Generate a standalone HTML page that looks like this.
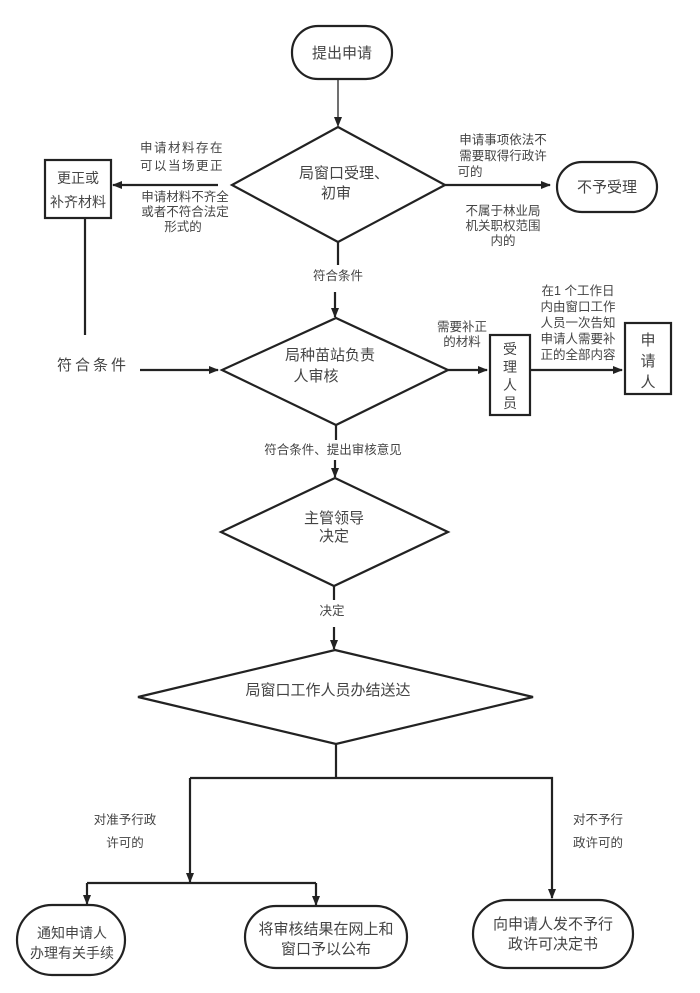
<!DOCTYPE html>
<html><head><meta charset="utf-8"><style>
html,body{margin:0;padding:0;background:#fff;}
svg text{font-family:"Liberation Sans","Noto Sans CJK SC",sans-serif;fill:#444;}
</style></head><body>
<svg width="700" height="988" viewBox="0 0 700 988" xmlns="http://www.w3.org/2000/svg">
<defs><marker id="a" markerWidth="10" markerHeight="10" refX="9" refY="5" orient="auto" markerUnits="userSpaceOnUse"><path d="M0,1 L10,5 L0,9 z" fill="#222"/></marker></defs>
<g stroke="#222" stroke-width="2.2" fill="none">
<rect x="292" y="26" width="100" height="53" rx="26"/>
<line x1="338" y1="79" x2="338" y2="126" stroke-width="1.3" marker-end="url(#a)"/>
<polygon points="338,127 445,185 338,242 232,185"/>
<line x1="218" y1="185" x2="113" y2="185" marker-end="url(#a)"/>
<line x1="445" y1="185" x2="550" y2="185" marker-end="url(#a)"/>
<rect x="45" y="160" width="66" height="58"/>
<rect x="557" y="162" width="100" height="50" rx="25"/>
<line x1="85" y1="218" x2="85" y2="335"/>
<line x1="338" y1="242" x2="338" y2="265"/>
<line x1="335" y1="292" x2="335" y2="317" marker-end="url(#a)"/>
<polygon points="336,318 448,370 336,425 222,370"/>
<line x1="140" y1="370" x2="218" y2="370" marker-end="url(#a)"/>
<line x1="448" y1="370" x2="487" y2="370" marker-end="url(#a)"/>
<rect x="490" y="335" width="40" height="80"/>
<line x1="530" y1="370" x2="622" y2="370" marker-end="url(#a)"/>
<rect x="625" y="323" width="46" height="71"/>
<line x1="336" y1="425" x2="336" y2="440"/>
<line x1="335" y1="460" x2="335" y2="477" marker-end="url(#a)"/>
<polygon points="335,478 448,532 334,586 221,532"/>
<line x1="334" y1="586" x2="334" y2="600"/>
<line x1="334" y1="627" x2="334" y2="649" marker-end="url(#a)"/>
<polygon points="335,650 533,697 336,744 138,697"/>
<line x1="336" y1="744" x2="336" y2="778"/>
<polyline points="190,778 552,778 552,898" marker-end="url(#a)"/>
<line x1="190" y1="778" x2="190" y2="882" marker-end="url(#a)"/>
<polyline points="87,883 316,883"/>
<line x1="87" y1="883" x2="87" y2="904" marker-end="url(#a)"/>
<line x1="316" y1="883" x2="316" y2="905" marker-end="url(#a)"/>
<rect x="17" y="905" width="108" height="70" rx="35"/>
<rect x="245" y="906" width="162" height="62" rx="31"/>
<rect x="473" y="900" width="160" height="68" rx="34"/>
</g>
<g font-size="15" text-anchor="middle">
<text x="342" y="58">提出申请</text>
<text x="344" y="178">局窗口受理、</text>
<text x="336" y="198">初审</text>
<g font-size="14"><text x="78" y="183">更正或</text>
<text x="78" y="207">补齐材料</text></g>
<text x="607" y="192">不予受理</text>
<text x="330" y="360">局种苗站负责</text><text x="316" y="381">人审核</text>
<g font-size="14"><text x="510" y="354">受</text><text x="510" y="372">理</text><text x="510" y="390">人</text><text x="510" y="408">员</text></g>
<text x="648" y="345">申</text><text x="648" y="366">请</text><text x="648" y="387">人</text>
<text x="93" y="370" letter-spacing="3">符合条件</text>
<text x="334" y="523">主管领导</text>
<text x="334" y="541">决定</text>
<text x="328" y="695">局窗口工作人员办结送达</text>
<g font-size="14"><text x="72" y="938">通知申请人</text>
<text x="72" y="958">办理有关手续</text></g>
<text x="326" y="934">将审核结果在网上和</text>
<text x="326" y="954">窗口予以公布</text>
<text x="553" y="929">向申请人发不予行</text>
<text x="553" y="949">政许可决定书</text>
</g>
<g font-size="12.5" text-anchor="middle">
<text x="182" y="152" letter-spacing="1.5">申请材料存在</text>
<text x="182" y="170" letter-spacing="1.5">可以当场更正</text>
<text x="185" y="201">申请材料不齐全</text>
<text x="185" y="216">或者不符合法定</text>
<text x="183" y="231">形式的</text>
<text x="503" y="144">申请事项依法不</text>
<text x="503" y="160">需要取得行政许</text>
<text x="470" y="176">可的</text>
<text x="503" y="215">不属于林业局</text>
<text x="503" y="230">机关职权范围</text>
<text x="503" y="245">内的</text>
<text x="338" y="280">符合条件</text>
<text x="462" y="331">需要补正</text>
<text x="462" y="346">的材料</text>
<text x="578" y="295">在1 个工作日</text>
<text x="578" y="311">内由窗口工作</text>
<text x="578" y="327">人员一次告知</text>
<text x="578" y="343">申请人需要补</text>
<text x="578" y="359">正的全部内容</text>
<text x="333" y="454">符合条件、提出审核意见</text>
<text x="332" y="615">决定</text>
<text x="125" y="824">对准予行政</text>
<text x="125" y="847">许可的</text>
<text x="598" y="824">对不予行</text>
<text x="598" y="847">政许可的</text>
</g>
</svg>
</body></html>
